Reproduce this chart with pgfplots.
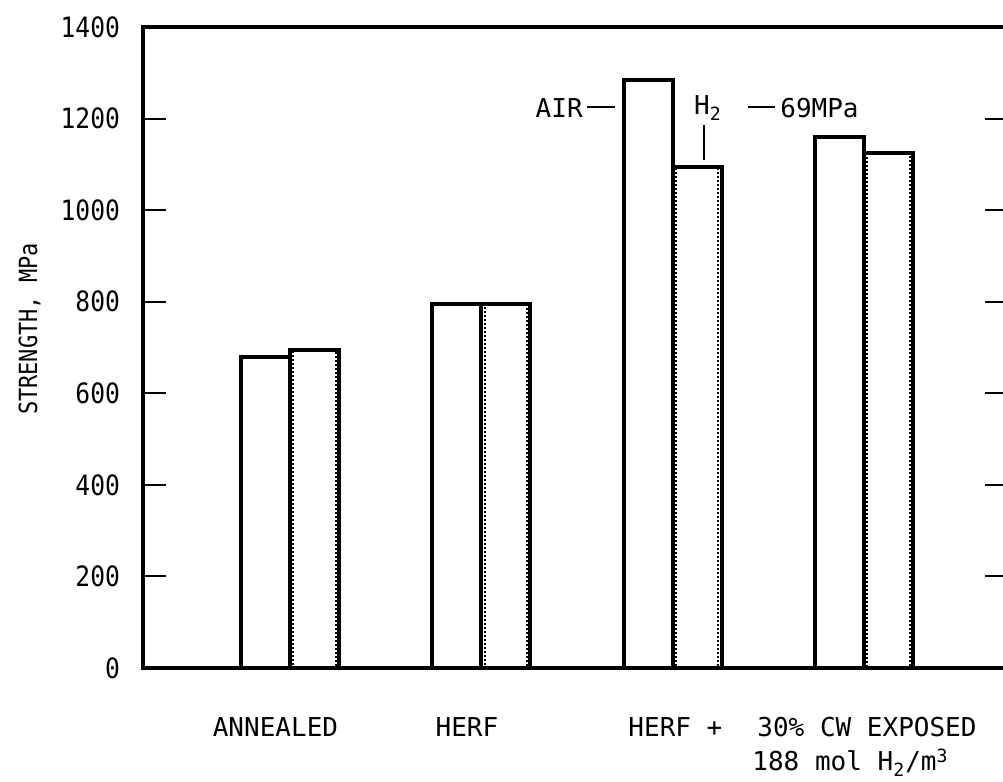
\documentclass[border=0pt]{standalone}
\usepackage{fontspec}
\setmainfont{DejaVu Sans Mono}
\newfontfamily\narrowmono{DejaVu Sans Mono}[FakeStretch=0.88]
\usepackage{pgfplots}
\pgfplotsset{compat=1.18}

% tensile strength, MPa, tested in air and in hydrogen (69 MPa)
\pgfplotstableread{
x  air   htwo
1  680   695
2  795   795
3  1285  1095
4  1160  1125
}\strength

\begin{document}
\begin{tikzpicture}
\begin{axis}[
  at={(0,0)}, anchor=south west,
  scale only axis,
  width=432.5pt, height=320.5pt,
  xmin=0.2316, xmax=4.753,
  ymin=0, ymax=1400,
  xtick=\empty,
  ytick={0,200,...,1400},
  ytick pos=both, yticklabel pos=left,
  tick align=inside,
  major tick length=11.5pt,
  tick style={line width=1pt, black},
  axis line style={line width=1.6pt},
  /pgf/number format/assume math mode=true,
  /pgf/number format/1000 sep={},
  yticklabel style={font=\narrowmono\fontsize{14}{16}\selectfont, anchor=east, xshift=-8pt},
  ylabel={STRENGTH, MPa},
  ylabel style={at={(axis description cs:-0.1225,0.529)}, anchor=base,
                inner sep=0pt, font=\narrowmono\fontsize{12.5}{14}\selectfont},
  clip=false,
  ybar, bar width=0.256,
]
  \addplot[draw=black, fill=white, line width=2pt, bar shift=-0.128]
    table[x=x, y=air] {\strength};
  \addplot[draw=black, fill=white, line width=2pt, bar shift=0.128]
    table[x=x, y=htwo] {\strength};
  % stippled inner edge of the hydrogen bars
  \addplot[draw=black, fill=none, line width=1pt, densely dotted,
           bar shift=0.128, bar width=0.222]
    table[x=x, y=htwo] {\strength};

  % environment call-outs
  \node[anchor=east, inner sep=0pt, font=\fontsize{13}{15}\selectfont]
    at (axis cs:2.532,1223) {AIR};
  \draw[line width=1.3pt] (axis cs:2.553,1225) -- (axis cs:2.699,1225);
  \node[inner sep=0pt, font=\fontsize{13}{15}\selectfont]
    at (axis cs:3.185,1223) {H\textsubscript{2}};
  \draw[line width=1.3pt] (axis cs:3.164,1186) -- (axis cs:3.164,1109);
  \draw[line width=1.3pt] (axis cs:3.394,1225) -- (axis cs:3.535,1225);
  \node[anchor=west, inner sep=0pt, font=\fontsize{13}{15}\selectfont]
    at (axis cs:3.561,1223) {69MPa};

  % condition labels under the bars
  \node[inner sep=0pt, font=\fontsize{13}{15}\selectfont]
    at (axis cs:0.924,-129) {ANNEALED};
  \node[inner sep=0pt, font=\fontsize{13}{15}\selectfont]
    at (axis cs:1.925,-129) {HERF};
  \node[anchor=west, inner sep=0pt, font=\fontsize{13}{15}\selectfont]
    at (axis cs:2.767,-129) {HERF +};
  \node[anchor=west, inner sep=0pt, font=\fontsize{13}{15}\selectfont]
    at (axis cs:3.441,-129) {30\% CW EXPOSED};
  \node[anchor=west, inner sep=0pt, font=\fontsize{13}{15}\selectfont]
    at (axis cs:3.415,-206) {188 mol H\textsubscript{2}/m\textsuperscript{3}};
\end{axis}
\pgfresetboundingbox
\path[use as bounding box] (-71.5pt,-57pt) rectangle (430pt,334pt);
\end{tikzpicture}
\end{document}
